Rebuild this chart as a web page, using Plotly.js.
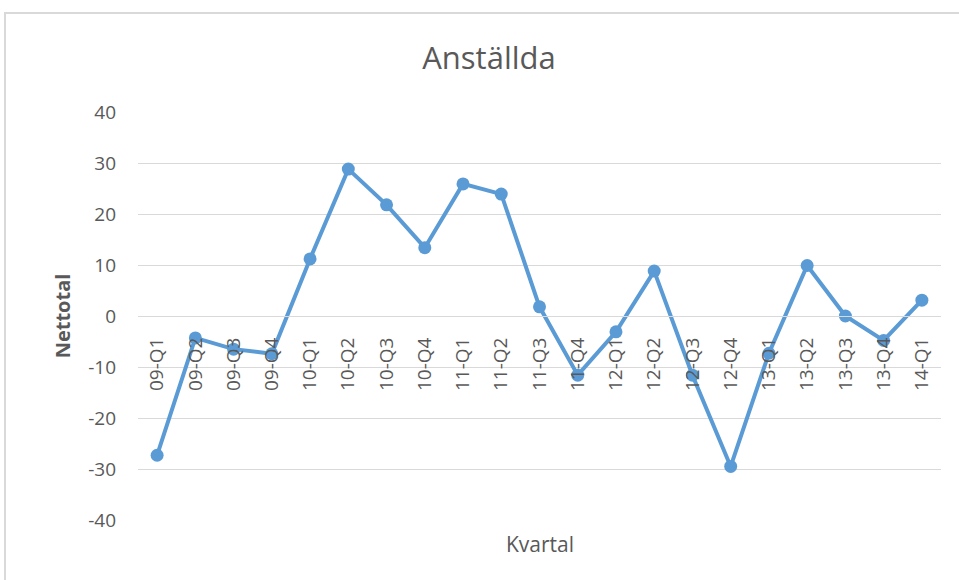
<!DOCTYPE html>
<html>
<head>
<meta charset="utf-8">
<script src="https://cdn.plot.ly/plotly-3.0.1.min.js"></script>
<style>
  html, body { margin: 0; padding: 0; background: #fff; }
  #wrap { position: relative; width: 959px; height: 580px; overflow: hidden; }
  #chart { width: 959px; height: 580px; }
  #frame { position: absolute; left: 4px; top: 12px; width: 980px; height: 600px;
           border-left: 2px solid #d9d9d9; border-top: 2px solid #d9d9d9; pointer-events: none; }
</style>
</head>
<body>
<div id="wrap">
  <div id="chart"></div>
  <div id="frame"></div>
</div>
<script>
const categories = ["09-Q1","09-Q2","09-Q3","09-Q4","10-Q1","10-Q2","10-Q3","10-Q4",
  "11-Q1","11-Q2","11-Q3","11-Q4","12-Q1","12-Q2","12-Q3","12-Q4",
  "13-Q1","13-Q2","13-Q3","13-Q4","14-Q1"];
const nettotal = [-27.3, -4.3, -6.5, -7.4, 11.2, 28.8, 21.8, 13.4,
  25.9, 23.9, 1.8, -11.6, -3.1, 8.8, -11.6, -29.5,
  -7.3, 9.9, 0.0, -4.8, 3.1];
const yTicks = [-40, -30, -20, -10, 0, 10, 20, 30, 40];

const font = "'Open Sans', sans-serif";

const trace = {
  type: "scatter",
  mode: "lines+markers",
  x: categories,
  y: nettotal,
  line: { color: "#5b9bd5", width: 4 },
  marker: { color: "#5b9bd5", size: 13 },
  hoverinfo: "x+y"
};

const layout = {
  width: 959,
  height: 580,
  margin: { l: 138, r: 18, t: 112, b: 60 },
  paper_bgcolor: "#ffffff",
  plot_bgcolor: "#ffffff",
  showlegend: false,
  title: {
    text: "Anställda",
    font: { family: font, size: 31, color: "#595959" },
    x: 489 / 959, xref: "container", xanchor: "center",
    y: 1 - 58 / 580, yref: "container", yanchor: "middle"
  },
  xaxis: {
    type: "category",
    range: [-0.5, categories.length - 0.5],
    anchor: "free",
    position: 0.5,
    tickangle: -90,
    tickfont: { family: font, size: 19, color: "#595959" },
    ticks: "",
    ticklabelstandoff: 13,
    showgrid: false,
    showline: true,
    linecolor: "#d9d9d9",
    linewidth: 1,
    zeroline: false,
    fixedrange: true
  },
  yaxis: {
    range: [-40, 40],
    tickvals: yTicks,
    ticktext: yTicks.map(String),
    tickfont: { family: font, size: 19, color: "#595959" },
    ticks: "",
    ticklabelstandoff: 21,
    showgrid: true,
    gridcolor: "#d9d9d9",
    gridwidth: 1,
    zeroline: false,
    showline: false,
    title: {
      text: "<b>Nettotal</b>",
      font: { family: font, size: 20, color: "#595959" },
      standoff: 12
    },
    fixedrange: true
  },
  annotations: [{
    text: "Kvartal",
    xref: "paper", yref: "paper",
    x: 0.5, y: -(544 - 520) / 408,
    xanchor: "center", yanchor: "middle",
    showarrow: false,
    font: { family: font, size: 21, color: "#595959" }
  }]
};

Plotly.newPlot("chart", [trace], layout, { displayModeBar: false });
</script>
</body>
</html>
